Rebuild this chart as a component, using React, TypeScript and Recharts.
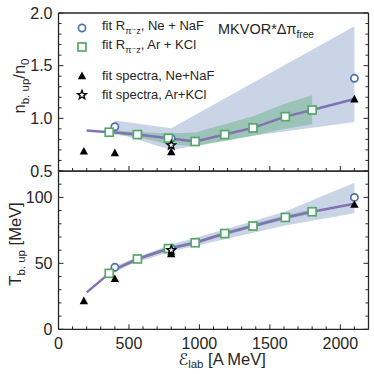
import React from 'react';
import { ComposedChart, Line, Area, Scatter, XAxis, YAxis, Legend } from 'recharts';

const FONT = '"Liberation Sans", Arial, "DejaVu Sans", sans-serif';
const INK = '#262626';
const BLUE = '#4c72b0';
const GREEN = '#55a868';
const PURPLE = '#8172b2';

// axis ticks
const xMajor = [0, 500, 1000, 1500, 2000];
const xTicks = [0, 100, 200, 300, 400, 500, 600, 700, 800, 900, 1000, 1100, 1200, 1300, 1400, 1500, 1600, 1700, 1800, 1900, 2000, 2100, 2200];
const nMajor = [0.5, 1.0, 1.5, 2.0];
const nTicks = [0.5, 0.6, 0.7, 0.8, 0.9, 1.0, 1.1, 1.2, 1.3, 1.4, 1.5, 1.6, 1.7, 1.8, 1.9, 2.0];
const tMajor = [0, 50, 100];
const tTicks = [0, 10, 20, 30, 40, 50, 60, 70, 80, 90, 100, 110, 120];

// model curve (MKVOR*, free Delta-pi)
const modelE = [200, 360, 400, 560, 780, 970, 1180, 1380, 1610, 1800, 2100];
const modelN = [0.885, 0.868, 0.866, 0.846, 0.81, 0.78, 0.846, 0.909, 1.016, 1.079, 1.183];
const modelT = [28, 42.4, 45.5, 53.3, 61, 65.6, 72.6, 78.3, 84.8, 89.1, 95.2];

// fit R_pi-z, Ar+KCl (squares + green band)
const arE = [360, 560, 780, 970, 1180, 1380, 1610, 1800];
const arN = [0.868, 0.846, 0.812, 0.78, 0.846, 0.909, 1.016, 1.079];
const arNLo = [0.85, 0.82, 0.755, 0.735, 0.785, 0.835, 0.9, 0.945];
const arNHi = [0.89, 0.87, 0.855, 0.865, 0.945, 1.02, 1.14, 1.22];
const arT = [42.4, 53.3, 61.2, 65.6, 72.6, 78.3, 84.8, 89.1];
const arTLo = [41, 52, 60, 64.5, 71.3, 77, 83.3, 87.5];
const arTHi = [43.5, 54.5, 62.5, 67, 74, 80, 86.5, 91];

// fit R_pi-z, Ne+NaF (circles + blue band)
const neE = [400, 800, 2100];
const neN = [0.92, 0.81, 1.38];
const neT = [47, 61.5, 100];
const neBandNE = [400, 800, 1380, 2100];
const neBandNLo = [0.865, 0.7, 0.835, 0.965];
const neBandNHi = [0.98, 0.905, 1.338, 1.875];
const neBandTE = [400, 800, 1000, 1600, 2100];
const neBandTLo = [45.5, 59, 63.9, 78.5, 88];
const neBandTHi = [48, 64.5, 70.2, 89, 111];

// fit spectra
const specNeE = [180, 400, 800, 2100];
const specNeN = [0.686, 0.67, 0.68, 1.18];
const specNeT = [21.5, 38.2, 57, 94.5];
const specArE = [800];
const specArN = [0.745];
const specArT = [60];

const pts = (xs: number[], ys: number[]) => xs.map((x, i) => ({ x, y: ys[i] }));
const band = (xs: number[], lo: number[], hi: number[]) => xs.map((x, i) => ({ x, r: [lo[i], hi[i]] }));

function Marker({ kind, cx, cy }: { kind: string; cx: number; cy: number }) {
  if (kind === 'circle') return <circle cx={cx} cy={cy} r={3.6} fill="#fff" stroke={BLUE} strokeWidth={1.7} />;
  if (kind === 'square')
    return <rect x={cx - 4} y={cy - 4} width={8} height={8} fill="#fff" stroke={GREEN} strokeWidth={1.7} />;
  if (kind === 'triangle')
    return <polygon points={`${cx},${cy - 4.5} ${cx - 4.2},${cy + 3.2} ${cx + 4.2},${cy + 3.2}`} fill="#000" />;
  const p: string[] = [];
  for (let i = 0; i < 10; i++) {
    const r = i % 2 === 0 ? 4.6 : 2;
    const a = -Math.PI / 2 + (i * Math.PI) / 5;
    p.push(`${cx + r * Math.cos(a)},${cy + r * Math.sin(a)}`);
  }
  return <polygon points={p.join(' ')} fill="#fff" stroke="#000" strokeWidth={1.4} strokeLinejoin="miter" />;
}

const shapeOf = (kind: string) => (p: any) => <Marker kind={kind} cx={p.cx} cy={p.cy} />;

function XTick({ x, y, payload, side, labels }: any) {
  const major = xMajor.includes(payload.value);
  const len = major ? 5 : 3;
  const dir = side === 'top' ? 1 : -1;
  return (
    <g>
      <line x1={x} y1={y} x2={x} y2={y + dir * len} stroke={INK} strokeWidth={1} />
      {labels && major && (
        <text x={x} y={y + 19.5} textAnchor="middle" fontSize={16} fill={INK} fontFamily={FONT}>
          {payload.value}
        </text>
      )}
    </g>
  );
}

function YTick({ x, y, payload, side, majors, digits }: any) {
  const major = majors.includes(payload.value);
  const len = major ? 5 : 3;
  const dir = side === 'right' ? -1 : 1;
  return (
    <g>
      <line x1={x} y1={y} x2={x + dir * len} y2={y} stroke={INK} strokeWidth={1} />
      {side === 'left' && major && (
        <text x={x - 6} y={y + 5.7} textAnchor="end" fontSize={16} fill={INK} fontFamily={FONT}>
          {payload.value.toFixed(digits)}
        </text>
      )}
    </g>
  );
}

const frame = { stroke: INK, strokeWidth: 1.3 };

// axes get a 1px box (a 0px axis is not drawn), so the plot margins are 1px smaller
function axes(yDomain: number[], yTicks: number[], yMajor: number[], digits: number, xLabels: boolean, yLabel: any, xLabel?: any) {
  return [
    <XAxis key="xb" xAxisId="b" type="number" dataKey="x" domain={[0, 2200]} ticks={xTicks} interval={0}
      height={1} tickSize={0} tickMargin={0} tickLine={false} axisLine={frame} allowDataOverflow
      tick={(p: any) => <XTick {...p} side="bottom" labels={xLabels} />} label={xLabel} />,
    <XAxis key="xt" xAxisId="t" orientation="top" type="number" domain={[0, 2200]} ticks={xTicks} interval={0}
      height={1} tickSize={0} tickMargin={0} tickLine={false} axisLine={frame} allowDataOverflow
      tick={(p: any) => <XTick {...p} side="top" />} />,
    <YAxis key="yl" yAxisId="l" type="number" domain={yDomain} ticks={yTicks} interval={0}
      width={1} tickSize={0} tickMargin={0} tickLine={false} axisLine={frame} allowDataOverflow
      tick={(p: any) => <YTick {...p} side="left" majors={yMajor} digits={digits} />} label={yLabel} />,
    <YAxis key="yr" yAxisId="r" orientation="right" type="number" domain={yDomain} ticks={yTicks} interval={0}
      width={1} tickSize={0} tickMargin={0} tickLine={false} axisLine={frame} allowDataOverflow
      tick={(p: any) => <YTick {...p} side="right" majors={yMajor} digits={digits} />} />,
  ];
}

const legendLabels = [
  <>fit R<sub style={{ fontSize: '70%' }}>π⁻z</sub>, Ne + NaF</>,
  <>fit R<sub style={{ fontSize: '70%' }}>π⁻z</sub>, Ar + KCl</>,
  <>fit spectra, Ne+NaF</>,
  <>fit spectra, Ar+KCl</>,
];
const legendKinds = ['circle', 'square', 'triangle', 'star'];
const legendRowY = [28, 47, 76, 95];

function LegendBox() {
  return (
    <div style={{ position: 'relative', width: 374, height: 172, fontFamily: FONT, color: INK }}>
      {legendKinds.map((k, i) => (
        <React.Fragment key={k}>
          <svg width={14} height={14} style={{ position: 'absolute', left: 75, top: legendRowY[i] - 7 }}>
            <Marker kind={k} cx={7} cy={7} />
          </svg>
          <div style={{ position: 'absolute', left: 102, top: legendRowY[i], transform: 'translateY(-52%)', fontSize: 13, lineHeight: 1, whiteSpace: 'nowrap' }}>
            {legendLabels[i]}
          </div>
        </React.Fragment>
      ))}
      <div style={{ position: 'absolute', left: 218, top: 22, fontSize: 14.5, lineHeight: 1, whiteSpace: 'nowrap' }}>
        MKVOR*Δπ<sub style={{ fontSize: '70%' }}>free</sub>
      </div>
    </div>
  );
}

const TopYLabel = () => (
  <text transform="translate(25,86) rotate(-90)" textAnchor="middle" fontSize={16.5} fill={INK} fontFamily={FONT}>
    n<tspan fontSize={11.5} dy={4}>b. up</tspan>
    <tspan dy={-4}>/n</tspan>
    <tspan fontSize={11.5} dy={4}>0</tspan>
  </text>
);

const BottomYLabel = () => (
  <text transform="translate(20.5,73) rotate(-90)" textAnchor="middle" fontSize={16.5} fill={INK} fontFamily={FONT}>
    T<tspan fontSize={11.5} dy={4}>b. up</tspan>
    <tspan dy={-4}> [MeV]</tspan>
  </text>
);

const XLabel = () => (
  <text x={222} y={194} textAnchor="middle" fontSize={16.5} fill={INK} fontFamily={FONT}>
    <tspan fontStyle="italic" fontFamily='"DejaVu Sans", sans-serif'>ℰ</tspan>
    <tspan fontSize={11.5} dy={3}>lab</tspan>
    <tspan dy={-3}> [A MeV]</tspan>
  </text>
);

export default function App() {
  const margin = { right: 4.5, left: 57.5 };
  return (
    <div style={{ position: 'absolute', left: 0, top: 0, width: 374, height: 374, background: '#fff' }}>
      <div style={{ position: 'absolute', left: 0, top: 0 }}>
        <ComposedChart width={374} height={182} margin={{ ...margin, top: 12, bottom: 10 }}>
          {axes([0.5, 2], nTicks, nMajor, 1, false, <TopYLabel />)}
          <Area xAxisId="b" yAxisId="l" data={band(neBandNE, neBandNLo, neBandNHi)} dataKey="r" type="linear"
            stroke="none" fill={BLUE} fillOpacity={0.3} isAnimationActive={false} activeDot={false} />
          <Area xAxisId="b" yAxisId="l" data={band(arE, arNLo, arNHi)} dataKey="r" type="linear"
            stroke="none" fill={GREEN} fillOpacity={0.38} isAnimationActive={false} activeDot={false} />
          <Line xAxisId="b" yAxisId="l" data={pts(modelE, modelN)} dataKey="y" type="linear" stroke={PURPLE}
            strokeWidth={2.5} dot={false} activeDot={false} isAnimationActive={false} />
          <Scatter xAxisId="b" yAxisId="l" data={pts(neE, neN)} dataKey="y" shape={shapeOf('circle')} isAnimationActive={false} />
          <Scatter xAxisId="b" yAxisId="l" data={pts(arE, arN)} dataKey="y" shape={shapeOf('square')} isAnimationActive={false} />
          <Scatter xAxisId="b" yAxisId="l" data={pts(specNeE, specNeN)} dataKey="y" shape={shapeOf('triangle')} isAnimationActive={false} />
          <Scatter xAxisId="b" yAxisId="l" data={pts(specArE, specArN)} dataKey="y" shape={shapeOf('star')} isAnimationActive={false} />
          <Legend layout="vertical" align="center" verticalAlign="middle" content={() => <LegendBox />}
            wrapperStyle={{ left: 0, top: 0, width: 374, height: 172 }} />
        </ComposedChart>
      </div>
      <div style={{ position: 'absolute', left: 0, top: 171 }}>
        <ComposedChart width={374} height={203} margin={{ ...margin, top: -1, bottom: 43.7 }}>
          {axes([0, 120], tTicks, tMajor, 0, true, <BottomYLabel />, <XLabel />)}
          <Area xAxisId="b" yAxisId="l" data={band(neBandTE, neBandTLo, neBandTHi)} dataKey="r" type="linear"
            stroke="none" fill={BLUE} fillOpacity={0.3} isAnimationActive={false} activeDot={false} />
          <Area xAxisId="b" yAxisId="l" data={band(arE, arTLo, arTHi)} dataKey="r" type="linear"
            stroke="none" fill={GREEN} fillOpacity={0.38} isAnimationActive={false} activeDot={false} />
          <Line xAxisId="b" yAxisId="l" data={pts(modelE, modelT)} dataKey="y" type="linear" stroke={PURPLE}
            strokeWidth={2.5} dot={false} activeDot={false} isAnimationActive={false} />
          <Scatter xAxisId="b" yAxisId="l" data={pts(neE, neT)} dataKey="y" shape={shapeOf('circle')} isAnimationActive={false} />
          <Scatter xAxisId="b" yAxisId="l" data={pts(arE, arT)} dataKey="y" shape={shapeOf('square')} isAnimationActive={false} />
          <Scatter xAxisId="b" yAxisId="l" data={pts(specNeE, specNeT)} dataKey="y" shape={shapeOf('triangle')} isAnimationActive={false} />
          <Scatter xAxisId="b" yAxisId="l" data={pts(specArE, specArT)} dataKey="y" shape={shapeOf('star')} isAnimationActive={false} />
        </ComposedChart>
      </div>
    </div>
  );
}
